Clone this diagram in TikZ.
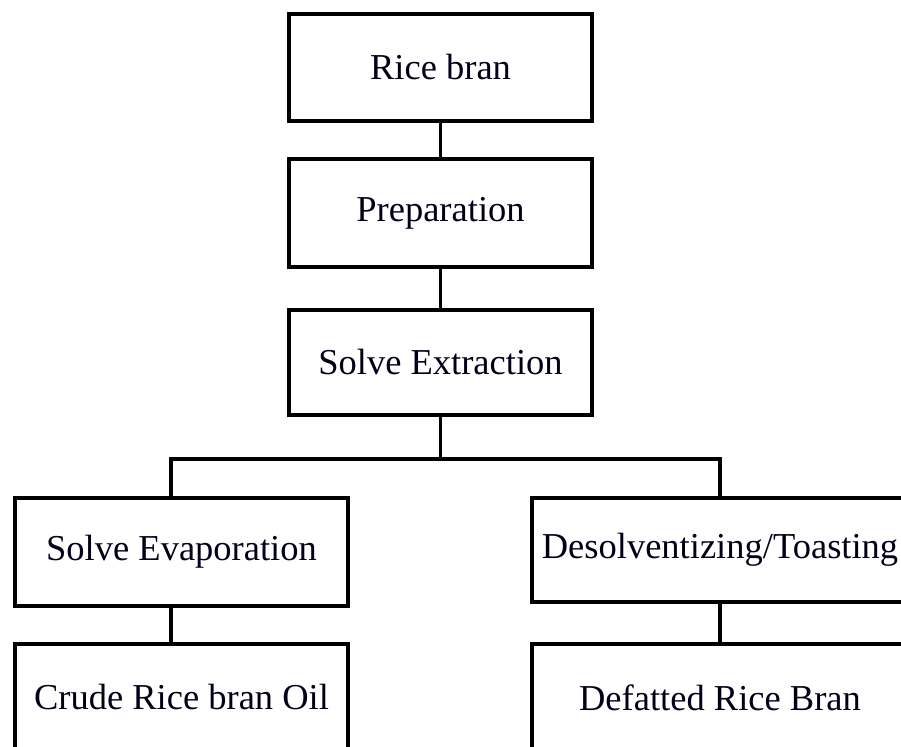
\documentclass[tikz,border=0pt]{standalone}
\usepackage{fontspec}
\setmainfont{Liberation Serif}
\begin{document}
\begin{tikzpicture}[x=1pt,y=-1pt,
  stepbox/.style={draw=black, line width=3.5pt, fill=white, rectangle, inner sep=0pt,
    font=\fontsize{36.5}{40}\selectfont, text=black!90!blue},
  conn/.style={draw=black, line width=3.5pt, line join=miter}]
\useasboundingbox (0,0) rectangle (901,746);
\fill[white] (0,0) rectangle (901,746);
\clip (0,0) rectangle (901,746);
\node[stepbox, minimum width=303pt, minimum height=107pt] (rice) at (440.5,67.5) {Rice bran};
\node[stepbox, minimum width=303pt, minimum height=108pt] (prep) at (440.5,213) {Preparation};
\node[stepbox, minimum width=303pt, minimum height=105pt] (ext) at (440.5,362.5) {Solve Extraction};
\node[stepbox, minimum width=333pt, minimum height=108pt] (evap) at (181.5,552) {Solve Evaporation};
\node[stepbox, minimum width=333pt, minimum height=107pt] (crude) at (181.5,697.5) {Crude Rice bran Oil};
\node[stepbox, minimum width=376pt, minimum height=104pt] (desolv) at (720,550) {Desolventizing/Toasting};
\node[stepbox, minimum width=376pt, minimum height=107pt] (defat) at (720,697.5) {Defatted Rice Bran};
\coordinate (bl) at (171,459);
\coordinate (br) at (720,459);
\draw[conn] (rice.south) -- (prep.north);
\draw[conn] (prep.south) -- (ext.north);
\draw[conn] (ext.south) -- (ext.south |- bl);
\draw[conn] (bl |- evap.north) -- (bl) -- (br) -- (desolv.north);
\draw[conn] (evap.south -| bl) -- (crude.north -| bl);
\draw[conn] (desolv.south) -- (defat.north);
\end{tikzpicture}
\end{document}
